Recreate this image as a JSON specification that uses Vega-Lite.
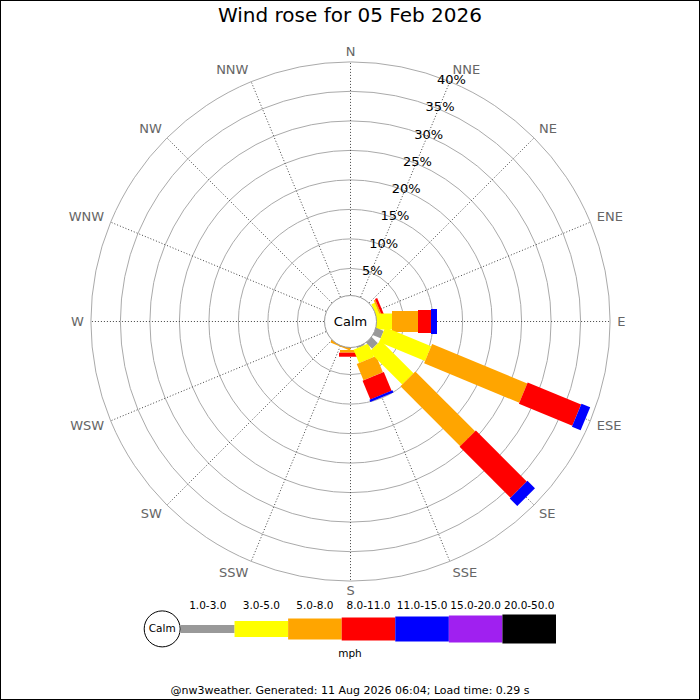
{
  "$schema": "https://vega.github.io/schema/vega-lite/v6.json",
  "width": 700,
  "height": 700,
  "autosize": {"type": "none"},
  "padding": 0,
  "background": "white",
  "config": {
    "view": {"stroke": "#000", "strokeWidth": 2},
    "font": "DejaVu Sans",
    "text": {"font": "DejaVu Sans"}
  },
  "title": {
    "text": "Wind rose for 05 Feb 2026",
    "font": "DejaVu Sans",
    "fontSize": 20,
    "fontWeight": "normal",
    "color": "#000",
    "anchor": "middle",
    "frame": "group",
    "baseline": "middle",
    "offset": -18,
    "dy": 18
  },
  "datasets": {
    "dirs": [
      {"dir": "N", "angle": 0},
      {"dir": "NNE", "angle": 22.5},
      {"dir": "NE", "angle": 45},
      {"dir": "ENE", "angle": 67.5},
      {"dir": "E", "angle": 90},
      {"dir": "ESE", "angle": 112.5},
      {"dir": "SE", "angle": 135},
      {"dir": "SSE", "angle": 157.5},
      {"dir": "S", "angle": 180},
      {"dir": "SSW", "angle": 202.5},
      {"dir": "SW", "angle": 225},
      {"dir": "WSW", "angle": 247.5},
      {"dir": "W", "angle": 270},
      {"dir": "WNW", "angle": 292.5},
      {"dir": "NW", "angle": 315},
      {"dir": "NNW", "angle": 337.5}
    ],
    "rings": [
      {"pct": 5}, {"pct": 10}, {"pct": 15}, {"pct": 20},
      {"pct": 25}, {"pct": 30}, {"pct": 35}, {"pct": 40}
    ],
    "segments": [
      {"dir": "SSW", "angle": 202.5, "bin": "5.0-8.0", "start": 0, "end": 0.6},
      {"dir": "ENE", "angle": 67.5, "bin": "1.0-3.0", "start": 0, "end": 0.4},
      {"dir": "ENE", "angle": 67.5, "bin": "3.0-5.0", "start": 0.4, "end": 1.0},
      {"dir": "ENE", "angle": 67.5, "bin": "5.0-8.0", "start": 1.0, "end": 1.3},
      {"dir": "ENE", "angle": 67.5, "bin": "8.0-11.0", "start": 1.3, "end": 1.7},
      {"dir": "S", "angle": 180, "bin": "5.0-8.0", "start": 0.83, "end": 1.29},
      {"dir": "S", "angle": 180, "bin": "8.0-11.0", "start": 1.29, "end": 1.97},
      {"dir": "SSE", "angle": 157.5, "bin": "1.0-3.0", "start": 0, "end": 0.6},
      {"dir": "SSE", "angle": 157.5, "bin": "3.0-5.0", "start": 0.6, "end": 3.07},
      {"dir": "SSE", "angle": 157.5, "bin": "5.0-8.0", "start": 3.07, "end": 6.05},
      {"dir": "SSE", "angle": 157.5, "bin": "8.0-11.0", "start": 6.05, "end": 9.5},
      {"dir": "SSE", "angle": 157.5, "bin": "11.0-15.0", "start": 9.5, "end": 9.9},
      {"dir": "E", "angle": 90, "bin": "3.0-5.0", "start": 0, "end": 3.03},
      {"dir": "E", "angle": 90, "bin": "5.0-8.0", "start": 3.03, "end": 7.44},
      {"dir": "E", "angle": 90, "bin": "8.0-11.0", "start": 7.44, "end": 9.64},
      {"dir": "E", "angle": 90, "bin": "11.0-15.0", "start": 9.64, "end": 10.66},
      {"dir": "SE", "angle": 135, "bin": "1.0-3.0", "start": 0, "end": 1.88},
      {"dir": "SE", "angle": 135, "bin": "3.0-5.0", "start": 1.88, "end": 9.75},
      {"dir": "SE", "angle": 135, "bin": "5.0-8.0", "start": 9.75, "end": 24.1},
      {"dir": "SE", "angle": 135, "bin": "8.0-11.0", "start": 24.1, "end": 36.3},
      {"dir": "SE", "angle": 135, "bin": "11.0-15.0", "start": 36.3, "end": 38.1},
      {"dir": "ESE", "angle": 112.5, "bin": "1.0-3.0", "start": 0, "end": 1.81},
      {"dir": "ESE", "angle": 112.5, "bin": "3.0-5.0", "start": 1.81, "end": 10.24},
      {"dir": "ESE", "angle": 112.5, "bin": "5.0-8.0", "start": 10.24, "end": 27.7},
      {"dir": "ESE", "angle": 112.5, "bin": "8.0-11.0", "start": 27.7, "end": 37.5},
      {"dir": "ESE", "angle": 112.5, "bin": "11.0-15.0", "start": 37.5, "end": 39.1}
    ],
    "bins": [
      {"bin": "1.0-3.0"},
      {"bin": "3.0-5.0"},
      {"bin": "5.0-8.0"},
      {"bin": "8.0-11.0"},
      {"bin": "11.0-15.0"},
      {"bin": "15.0-20.0"},
      {"bin": "20.0-50.0"}
    ]
  },
  "resolve": {"scale": {"x": "independent"}},
  "layer": [
    {
      "layer": [
        {
          "data": {"name": "rings"},
          "transform": [{"calculate": "datum.pct + 4", "as": "rr"}],
          "mark": {"type": "point", "shape": "circle", "filled": false, "stroke": "#aaaaaa", "strokeWidth": 1, "opacity": 1},
          "encoding": {
            "x": {"datum": 0, "type": "quantitative", "scale": {"domain": [-59.41, 59.24], "nice": false, "zero": false}, "axis": null},
            "y": {"datum": 0, "type": "quantitative", "scale": {"domain": [-64.15, 54.49], "nice": false, "zero": false}, "axis": null},
            "size": {"field": "rr", "type": "quantitative", "legend": null, "scale": {"type": "pow", "exponent": 2, "domain": [0, 44], "range": [0, 269569]}}
          }
        },
        {
          "data": {"name": "dirs"},
          "transform": [
            {"calculate": "4*sin(datum.angle*PI/180)", "as": "sx0"},
            {"calculate": "4*cos(datum.angle*PI/180)", "as": "sy0"},
            {"calculate": "44*sin(datum.angle*PI/180)", "as": "sx"},
            {"calculate": "44*cos(datum.angle*PI/180)", "as": "sy"}
          ],
          "mark": {"type": "rule", "stroke": "#444444", "strokeWidth": 1, "strokeDash": [1, 2]},
          "encoding": {
            "x": {"field": "sx0", "type": "quantitative"},
            "y": {"field": "sy0", "type": "quantitative"},
            "x2": {"field": "sx"},
            "y2": {"field": "sy"}
          }
        },
        {
          "data": {"name": "segments"},
          "transform": [
            {"calculate": "(datum.start+4)*sin(datum.angle*PI/180)", "as": "bx1"},
            {"calculate": "(datum.start+4)*cos(datum.angle*PI/180)", "as": "by1"},
            {"calculate": "(datum.end+4)*sin(datum.angle*PI/180)", "as": "bx2"},
            {"calculate": "(datum.end+4)*cos(datum.angle*PI/180)", "as": "by2"}
          ],
          "mark": {"type": "rule", "strokeCap": "butt"},
          "encoding": {
            "x": {"field": "bx1", "type": "quantitative"},
            "y": {"field": "by1", "type": "quantitative"},
            "x2": {"field": "bx2"},
            "y2": {"field": "by2"},
            "color": {
              "field": "bin", "type": "nominal", "legend": null,
              "scale": {
                "domain": ["1.0-3.0", "3.0-5.0", "5.0-8.0", "8.0-11.0", "11.0-15.0", "15.0-20.0", "20.0-50.0"],
                "range": ["#999999", "#ffff00", "#ffa500", "#ff0000", "#0000ff", "#a020f0", "#000000"]
              }
            },
            "strokeWidth": {
              "field": "bin", "type": "nominal", "legend": null,
              "scale": {
                "type": "ordinal",
                "domain": ["1.0-3.0", "3.0-5.0", "5.0-8.0", "8.0-11.0", "11.0-15.0", "15.0-20.0", "20.0-50.0"],
                "range": [8, 16, 21, 23, 25, 27, 29]
              }
            }
          }
        },
        {
          "data": {"values": [{"label": "Calm"}]},
          "mark": {"type": "point", "shape": "circle", "size": 2704, "filled": true, "fill": "white", "stroke": "#999999", "strokeWidth": 1, "opacity": 1},
          "encoding": {
            "x": {"datum": 0, "type": "quantitative"},
            "y": {"datum": 0, "type": "quantitative"}
          }
        },
        {
          "data": {"values": [{"label": "Calm"}]},
          "mark": {"type": "text", "fontSize": 13, "color": "#000", "baseline": "middle"},
          "encoding": {
            "x": {"datum": 0, "type": "quantitative"},
            "y": {"datum": 0, "type": "quantitative"},
            "text": {"field": "label"}
          }
        },
        {
          "data": {"name": "rings"},
          "transform": [
            {"calculate": "(datum.pct+4)*sin(22.5*PI/180)", "as": "lx"},
            {"calculate": "(datum.pct+4)*cos(22.5*PI/180)", "as": "ly"},
            {"calculate": "datum.pct + '%'", "as": "label"}
          ],
          "mark": {"type": "text", "fontSize": 13, "color": "#000", "baseline": "middle", "dx": 1.5, "dy": -1.5},
          "encoding": {
            "x": {"field": "lx", "type": "quantitative"},
            "y": {"field": "ly", "type": "quantitative"},
            "text": {"field": "label"}
          }
        },
        {
          "data": {"name": "dirs"},
          "transform": [
            {"filter": "datum.angle > 0 && datum.angle < 180"},
            {"calculate": "45.2*sin(datum.angle*PI/180)", "as": "lx"},
            {"calculate": "46.1*cos(datum.angle*PI/180)", "as": "ly"}
          ],
          "mark": {"type": "text", "fontSize": 13, "color": "#666666", "align": "left", "baseline": "middle"},
          "encoding": {
            "x": {"field": "lx", "type": "quantitative"},
            "y": {"field": "ly", "type": "quantitative"},
            "text": {"field": "dir"}
          }
        },
        {
          "data": {"name": "dirs"},
          "transform": [
            {"filter": "datum.angle > 180"},
            {"calculate": "45.2*sin(datum.angle*PI/180)", "as": "lx"},
            {"calculate": "46.1*cos(datum.angle*PI/180)", "as": "ly"}
          ],
          "mark": {"type": "text", "fontSize": 13, "color": "#666666", "align": "right", "baseline": "middle"},
          "encoding": {
            "x": {"field": "lx", "type": "quantitative"},
            "y": {"field": "ly", "type": "quantitative"},
            "text": {"field": "dir"}
          }
        },
        {
          "data": {"name": "dirs"},
          "transform": [
            {"filter": "datum.angle == 0 || datum.angle == 180"},
            {"calculate": "45.2*sin(datum.angle*PI/180)", "as": "lx"},
            {"calculate": "45.7*cos(datum.angle*PI/180)", "as": "ly"}
          ],
          "mark": {"type": "text", "fontSize": 13, "color": "#666666", "align": "center", "baseline": "middle"},
          "encoding": {
            "x": {"field": "lx", "type": "quantitative"},
            "y": {"field": "ly", "type": "quantitative"},
            "text": {"field": "dir"}
          }
        }
      ]
    },
    {
      "layer": [
        {
          "data": {"name": "bins"},
          "mark": {"type": "rule", "strokeCap": "butt"},
          "encoding": {
            "x": {
              "field": "bin", "type": "nominal", "bandPosition": 0, "axis": null,
              "scale": {
                "type": "band",
                "domain": ["Calm", "1.0-3.0", "3.0-5.0", "5.0-8.0", "8.0-11.0", "11.0-15.0", "15.0-20.0", "20.0-50.0"],
                "range": [127.4, 556],
                "paddingInner": 0,
                "paddingOuter": 0
              }
            },
            "x2": {"field": "bin", "bandPosition": 1},
            "y": {"datum": -52.1, "type": "quantitative"},
            "color": {
              "field": "bin", "type": "nominal", "legend": null,
              "scale": {
                "domain": ["1.0-3.0", "3.0-5.0", "5.0-8.0", "8.0-11.0", "11.0-15.0", "15.0-20.0", "20.0-50.0"],
                "range": ["#999999", "#ffff00", "#ffa500", "#ff0000", "#0000ff", "#a020f0", "#000000"]
              }
            },
            "strokeWidth": {
              "field": "bin", "type": "nominal", "legend": null,
              "scale": {
                "type": "ordinal",
                "domain": ["1.0-3.0", "3.0-5.0", "5.0-8.0", "8.0-11.0", "11.0-15.0", "15.0-20.0", "20.0-50.0"],
                "range": [8, 16, 21, 23, 25, 27, 29]
              }
            }
          }
        },
        {
          "data": {"name": "bins"},
          "mark": {"type": "text", "fontSize": 10.5, "color": "#000", "baseline": "middle", "dy": -23},
          "encoding": {
            "x": {"field": "bin", "type": "nominal"},
            "y": {"datum": -52.1, "type": "quantitative"},
            "text": {"field": "bin"}
          }
        },
        {
          "data": {"values": [{"label": "Calm"}]},
          "mark": {"type": "point", "shape": "circle", "size": 1296, "filled": true, "fill": "white", "stroke": "#000", "strokeWidth": 1, "opacity": 1, "xOffset": 8},
          "encoding": {
            "x": {"field": "label", "type": "nominal"},
            "y": {"datum": -52.1, "type": "quantitative"}
          }
        },
        {
          "data": {"values": [{"label": "Calm"}]},
          "mark": {"type": "text", "fontSize": 10.5, "color": "#000", "baseline": "middle", "xOffset": 8},
          "encoding": {
            "x": {"field": "label", "type": "nominal"},
            "y": {"datum": -52.1, "type": "quantitative"},
            "text": {"field": "label"}
          }
        },
        {
          "data": {"values": [{"label": "mph"}]},
          "mark": {"type": "text", "fontSize": 10.5, "color": "#000", "baseline": "middle", "dy": 25},
          "encoding": {
            "y": {"datum": -52.1, "type": "quantitative"},
            "text": {"field": "label"}
          }
        },
        {
          "data": {"values": [{"label": "@nw3weather. Generated: 11 Aug 2026 06:04; Load time: 0.29 s"}]},
          "mark": {"type": "text", "fontSize": 11, "color": "#000", "baseline": "middle", "dy": 62},
          "encoding": {
            "y": {"datum": -52.1, "type": "quantitative"},
            "text": {"field": "label"}
          }
        }
      ]
    }
  ]
}
